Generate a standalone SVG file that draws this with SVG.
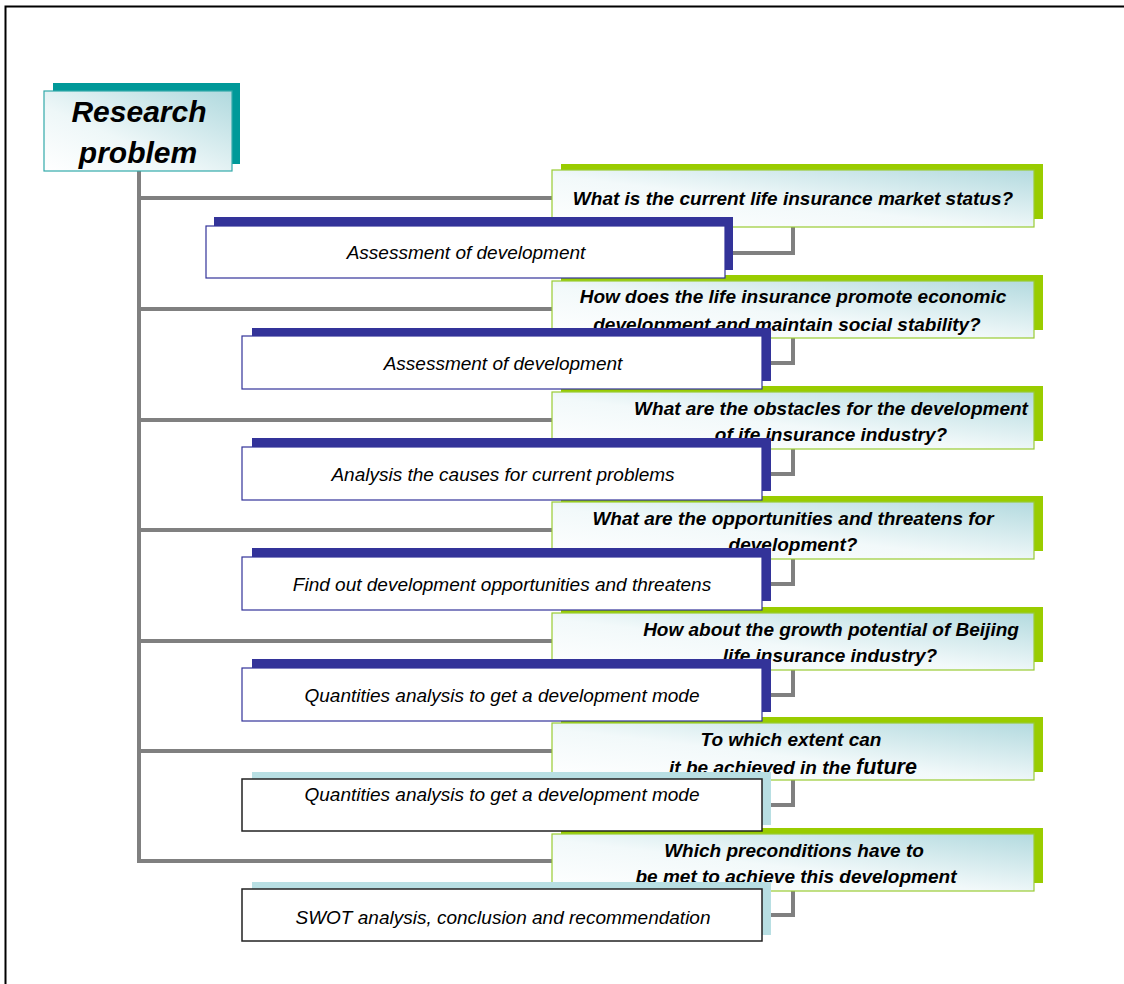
<svg xmlns="http://www.w3.org/2000/svg" width="1124" height="984" viewBox="0 0 1124 984">
<defs>
<linearGradient id="gq" x1="0" y1="1" x2="1" y2="0">
<stop offset="0" stop-color="#ffffff"/>
<stop offset="0.45" stop-color="#f2f9fa"/>
<stop offset="1" stop-color="#b3dadf"/>
</linearGradient>
<linearGradient id="gr" x1="0" y1="1" x2="1" y2="0">
<stop offset="0" stop-color="#ffffff"/>
<stop offset="0.4" stop-color="#eef7f8"/>
<stop offset="1" stop-color="#b0d9de"/>
</linearGradient>
<style>
.conn{fill:none;stroke:#808080;stroke-width:4;stroke-linejoin:miter}
.qs{fill:#99cc00}
.qf{fill:url(#gq);stroke:#99cc33;stroke-width:1.2}
.as{fill:#333399}
.af{fill:#ffffff;stroke:#333399;stroke-width:1.2}
.ls{fill:#b8dfe3}
.lf{fill:#ffffff;stroke:#222222;stroke-width:1.5}
.qt{font-family:"Liberation Sans",Arial,sans-serif;font-size:19px;font-weight:bold;font-style:italic;fill:#000;text-anchor:middle}
.at{font-family:"Liberation Sans",Arial,sans-serif;font-size:19px;font-style:italic;fill:#000;text-anchor:middle}
.rt{font-family:"Liberation Sans",Arial,sans-serif;font-size:30px;font-weight:bold;font-style:italic;fill:#000;text-anchor:middle}
</style>
</defs>
<rect width="1124" height="984" fill="#ffffff"/>
<path d="M5.5,984 V6.5 H1124" fill="none" stroke="#000" stroke-width="2"/>

<g id="connectors">
<path class="conn" d="M139,171 V861 H553"/>
<path class="conn" d="M139,198 H553"/>
<path class="conn" d="M139,309 H553"/>
<path class="conn" d="M139,420 H553"/>
<path class="conn" d="M139,530 H553"/>
<path class="conn" d="M139,641 H553"/>
<path class="conn" d="M139,751 H553"/>
<path class="conn" d="M793,227 V253 H730"/>
<path class="conn" d="M793,338 V363 H766"/>
<path class="conn" d="M793,449 V474 H766"/>
<path class="conn" d="M793,559 V584 H766"/>
<path class="conn" d="M793,670 V695 H766"/>
<path class="conn" d="M793,780 V805 H766"/>
<path class="conn" d="M793,891 V915 H766"/>
</g>

<g id="q1">
<rect class="qs" x="561" y="164" width="482" height="55"/>
<rect class="qf" x="552" y="170" width="482" height="57"/>
<text class="qt" x="793" y="205">What is the current life insurance market status?</text>
</g>
<g id="q2">
<rect class="qs" x="561" y="275" width="482" height="55"/>
<rect class="qf" x="552" y="281" width="482" height="57"/>
<text class="qt" x="793" y="303">How does the life insurance promote economic</text>
<text class="qt" x="787" y="331">development and maintain social stability?</text>
</g>
<g id="q3">
<rect class="qs" x="561" y="386" width="482" height="55"/>
<rect class="qf" x="552" y="392" width="482" height="57"/>
<text class="qt" x="831" y="415">What are the obstacles for the development</text>
<text class="qt" x="831" y="441">of ife insurance industry?</text>
</g>
<g id="q4">
<rect class="qs" x="561" y="496" width="482" height="55"/>
<rect class="qf" x="552" y="502" width="482" height="57"/>
<text class="qt" x="793" y="525">What are the opportunities and threatens for</text>
<text class="qt" x="793" y="551">development?</text>
</g>
<g id="q5">
<rect class="qs" x="561" y="607" width="482" height="55"/>
<rect class="qf" x="552" y="613" width="482" height="57"/>
<text class="qt" x="831" y="636">How about the growth potential of Beijing</text>
<text class="qt" x="830" y="662">life insurance industry?</text>
</g>
<g id="q6">
<rect class="qs" x="561" y="717" width="482" height="55"/>
<rect class="qf" x="552" y="723" width="482" height="57"/>
<text class="qt" x="791" y="746">To which extent can</text>
<text class="qt" x="793" y="774">it be achieved in the <tspan font-size="21.5">future</tspan></text>
</g>
<g id="q7">
<rect class="qs" x="561" y="828" width="482" height="55"/>
<rect class="qf" x="552" y="834" width="482" height="57"/>
<text class="qt" x="794" y="857">Which preconditions have to</text>
<text class="qt" x="796" y="883">be met to achieve this development</text>
</g>

<g id="a1">
<rect class="as" x="214" y="217" width="519" height="53"/>
<rect class="af" x="206" y="226" width="519" height="52"/>
<text class="at" x="466" y="259">Assessment of development</text>
</g>
<g id="a2">
<rect class="as" x="252" y="328" width="519" height="53"/>
<rect class="af" x="242" y="336" width="520" height="53"/>
<text class="at" x="503" y="370">Assessment of development</text>
</g>
<g id="a3">
<rect class="as" x="252" y="438" width="519" height="53"/>
<rect class="af" x="242" y="447" width="520" height="53"/>
<text class="at" x="503" y="481">Analysis the causes for current problems</text>
</g>
<g id="a4">
<rect class="as" x="252" y="548" width="519" height="53"/>
<rect class="af" x="242" y="557" width="520" height="53"/>
<text class="at" x="502" y="591">Find out development opportunities and threatens</text>
</g>
<g id="a5">
<rect class="as" x="252" y="659" width="519" height="53"/>
<rect class="af" x="242" y="668" width="520" height="53"/>
<text class="at" x="502" y="702">Quantities analysis to get a development mode</text>
</g>
<g id="a6">
<rect class="ls" x="252" y="772" width="519" height="53"/>
<rect class="lf" x="242" y="779" width="520" height="52"/>
<text class="at" x="502" y="801">Quantities analysis to get a development mode</text>
</g>
<g id="a7">
<rect class="ls" x="252" y="882" width="519" height="53"/>
<rect class="lf" x="242" y="889" width="520" height="52"/>
<text class="at" x="503" y="924">SWOT analysis, conclusion and recommendation</text>
</g>

<g id="research">
<rect x="53" y="83" width="187" height="81" fill="#009999"/>
<rect x="44" y="91" width="188" height="80" fill="url(#gr)" stroke="#33aaaa" stroke-width="1.2"/>
<text class="rt" x="139" y="122">Research</text>
<text class="rt" x="138" y="163">problem</text>
</g>
</svg>
